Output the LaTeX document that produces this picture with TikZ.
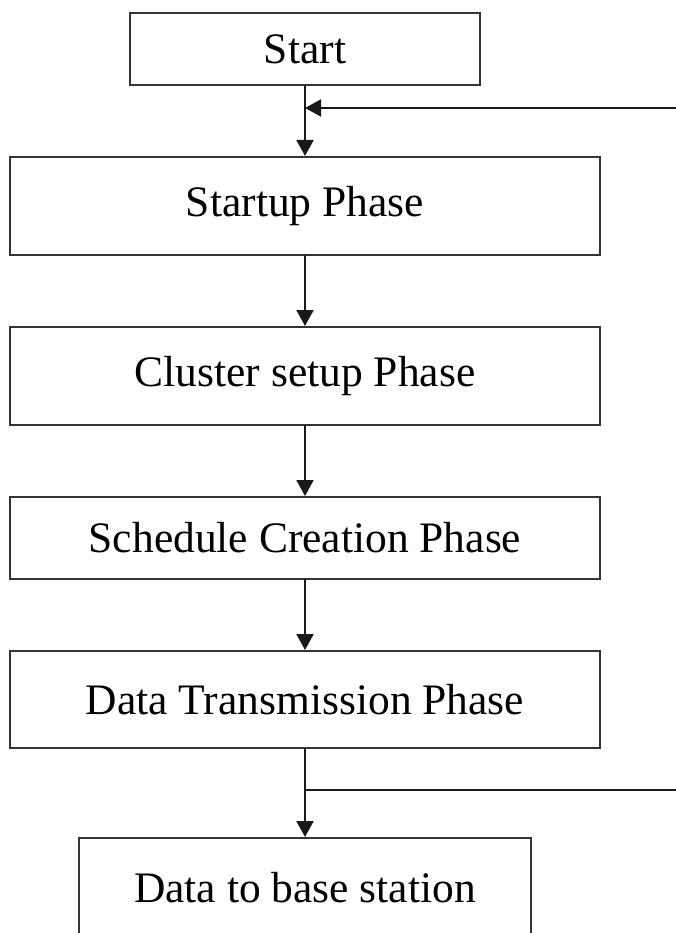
\documentclass[tikz,border=0pt]{standalone}
\usepackage{fontspec}
\setmainfont{Liberation Serif}
\usetikzlibrary{arrows.meta}

\begin{document}
\begin{tikzpicture}[x=1pt,y=-1pt,line cap=round,
    phase/.style={draw=black!80,line width=2pt,minimum width=590pt,
      minimum height=98pt,font=\fontsize{43.5}{48}\selectfont},
    flow/.style={draw=black!90,line width=2pt,-{Triangle[length=16pt,width=17pt]}}]
  \useasboundingbox (0,0) rectangle (676,933);

  \node[phase,minimum width=350pt,minimum height=72pt] (start) at (305,49) {Start};
  \node[phase] (startup) at (305,206) {Startup Phase};
  \node[phase] (cluster) at (305,376) {Cluster setup Phase};
  \node[phase,minimum height=82pt] (sched) at (305,538) {Schedule Creation Phase};
  \node[phase,minimum height=97pt] (trans) at (305,699.5) {Data Transmission Phase};
  \node[phase,minimum width=452pt,minimum height=100pt] (base) at (305,888) {Data to base station};

  \coordinate (join) at (305,108);
  \coordinate (split) at (305,790);

  \draw[flow] (start) -- (startup);
  \draw[flow] (startup) -- (cluster);
  \draw[flow] (cluster) -- (sched);
  \draw[flow] (sched) -- (trans);
  \draw[flow] (trans) -- (base);
  \draw[flow] (split) -- (700,790) -- (700,108) -- (join);
\end{tikzpicture}
\end{document}
